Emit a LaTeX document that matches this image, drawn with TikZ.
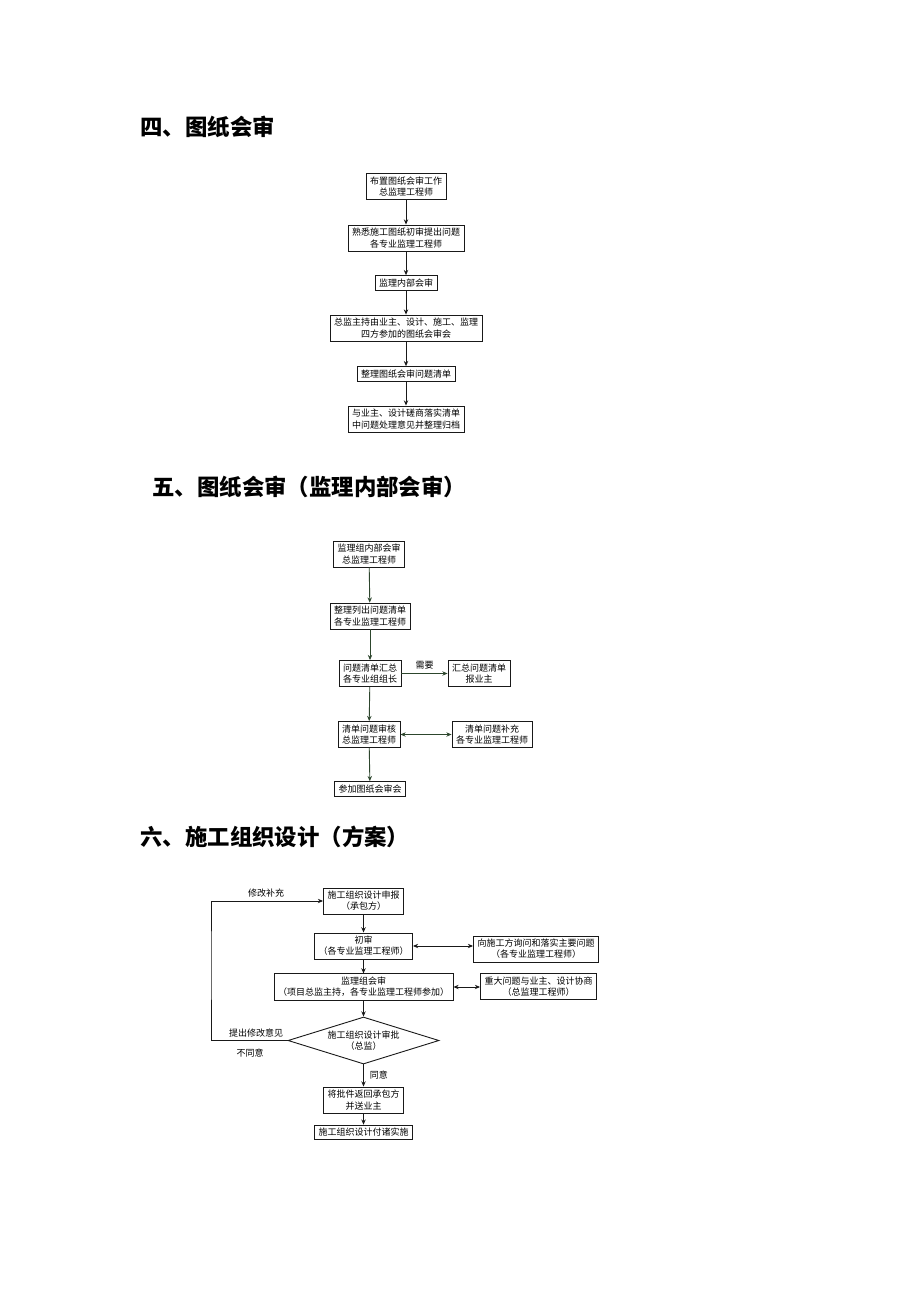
\documentclass[tikz,border=0pt]{standalone}
\usepackage{fontspec}
\setmainfont{Noto Sans CJK SC}
\usetikzlibrary{positioning, arrows.meta, shapes.geometric}
\definecolor{FlowGreen}{RGB}{45,70,45}
\definecolor{FlowGray}{RGB}{25,25,25}
\tikzset{
    procbox/.style={
        draw=FlowGray, line width=0.45pt, fill=white, align=center,
        inner xsep=2pt, inner ysep=1.6pt,
        font=\fontsize{4.5pt}{5.6pt}\selectfont
    },
    decbox/.style={
        diamond, draw=FlowGray, line width=0.45pt, align=center, aspect=3.2,
        inner sep=0pt, minimum width=75.5pt, minimum height=23.5pt,
        font=\fontsize{4.5pt}{5.6pt}\selectfont
    },
    ptr/.style={
        -{Stealth[length=2.6pt,width=2.2pt]}, line width=0.45pt, FlowGray
    },
    dptr/.style={
        {Stealth[length=2.6pt,width=2.2pt]}-{Stealth[length=2.6pt,width=2.2pt]},
        line width=0.45pt, FlowGray
    },
    labeltxt/.style={
        font=\fontsize{4.5pt}{5.6pt}\selectfont, inner sep=0pt, text=black
    },
    titletxt/.style={
        font=\fontsize{11.2pt}{13pt}\selectfont\bfseries, anchor=west, inner sep=0pt
    }
}

\begin{document}
\begin{tikzpicture}[x=0.5pt, y=-0.5pt]
    \useasboundingbox (0,0) rectangle (920,1302);

    % --- 四、图纸会审 ---
    \node[titletxt] (t4) at (140,127) {四、图纸会审};
    \node[procbox] (a1) at (406,186.5) {布置图纸会审工作\\总监理工程师};
    \node[procbox] (a2) at (406,238) {熟悉施工图纸初审提出问题\\各专业监理工程师};
    \node[procbox] (a3) at (406,283) {监理内部会审};
    \node[procbox] (a4) at (406,328) {总监主持由业主、设计、施工、监理\\四方参加的图纸会审会};
    \node[procbox] (a5) at (406,374) {整理图纸会审问题清单};
    \node[procbox] (a6) at (406,419) {与业主、设计磋商落实清单\\中问题处理意见并整理归档};
    \foreach \u/\v in {a1/a2, a2/a3, a3/a4, a4/a5, a5/a6}
        \draw[ptr] (\u) -- (\v);

    % --- 五、图纸会审（监理内部会审） ---
    \node[titletxt] (t5) at (152,487) {五、图纸会审（监理内部会审）};
    \begin{scope}[every node/.append style={draw=FlowGreen},
                  ptr/.append style={FlowGreen}, dptr/.append style={FlowGreen}]
        \node[procbox] (b1) at (369,554) {监理组内部会审\\总监理工程师};
        \node[procbox] (b2) at (370,616) {整理列出问题清单\\各专业监理工程师};
        \node[procbox] (b3) at (370,673.5) {问题清单汇总\\各专业组组长};
        \node[procbox] (b4) at (479,673.5) {汇总问题清单\\报业主};
        \node[procbox] (b5) at (369,734.5) {清单问题审核\\总监理工程师};
        \node[procbox] (b6) at (492,734.5) {清单问题补充\\各专业监理工程师};
        \node[procbox] (b7) at (370,789) {参加图纸会审会};
        \foreach \u/\v in {b1/b2, b2/b3, b3/b5, b5/b7}
            \draw[ptr] (\u) -- (\v);
        \draw[ptr] (b3) -- node[labeltxt, draw=none, above=2pt] (need) {需要} (b4);
        \draw[dptr] (b5) -- (b6);
    \end{scope}

    % --- 六、施工组织设计（方案） ---
    \node[titletxt] (t6) at (140,837) {六、施工组织设计（方案）};
    \node[procbox] (c1) at (363.5,901) {施工组织设计申报\\（承包方）};
    \node[procbox] (c2) at (363.5,946) {初审\\（各专业监理工程师）};
    \node[procbox] (c3) at (536,949) {向施工方询问和落实主要问题\\（各专业监理工程师）};
    \node[procbox] (c4) at (363.5,987) {监理组会审\\（项目总监主持，各专业监理工程师参加）};
    \node[procbox] (c5) at (538.5,986.5) {重大问题与业主、设计协商\\（总监理工程师）};
    \node[decbox] (c6) at (363.5,1040.5) {施工组织设计审批\\（总监）};
    \node[procbox] (c7) at (363.5,1100) {将批件返回承包方\\并送业主};
    \node[procbox] (c8) at (363.5,1132.5) {施工组织设计付诸实施};
    \coordinate (loop) at (211,960);

    \foreach \u/\v in {c1/c2, c2/c4, c4/c6, c7/c8}
        \draw[ptr] (\u) -- (\v);
    \draw[ptr] (c6) -- node[labeltxt, right=3pt] (agree) {同意} (c7);
    \draw[dptr] (c2.east) -- (c3.west |- c2.east);
    \draw[dptr] (c4.east) -- (c5.west |- c4.east);
    \draw[ptr] (c6.west) -| (loop) |- (c1.west);

    % 标注
    \node[labeltxt] (modify) at (266,893) {修改补充};
    \node[labeltxt] (advise) at (256,1033) {提出修改意见};
    \node[labeltxt] (refuse) at (250,1053) {不同意};
\end{tikzpicture}
\end{document}
